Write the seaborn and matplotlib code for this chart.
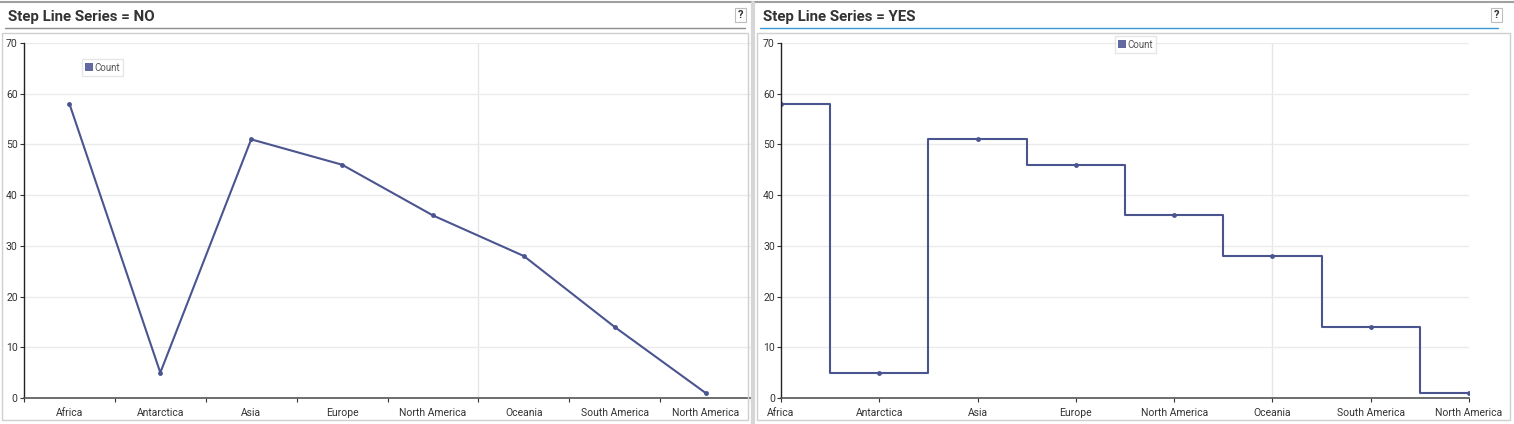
import numpy as np
import matplotlib
matplotlib.use("Agg")
import matplotlib.pyplot as plt
from matplotlib.lines import Line2D
from matplotlib.patches import Rectangle
import seaborn as sns

continents = ["Africa", "Antarctica", "Asia", "Europe", "North America",
              "Oceania", "South America", "North America"]
counts = [58, 5, 51, 46, 36, 28, 14, 1]
titles = ["Step Line Series = NO", "Step Line Series = YES"]

sns.set_style("white")
plt.rcParams["font.family"] = ["Roboto", "DejaVu Sans"]

W, H = 1514, 424
line_col = "#4a5590"
fig = plt.figure(figsize=(W / 100, H / 100), dpi=100)


def px_axes(x0, y0, x1, y1):
    return fig.add_axes([x0 / W, (H - y1) / H, (x1 - x0) / W, (y1 - y0) / H])


def px_rect(x0, y0, x1, y1, **kw):
    fig.patches.append(Rectangle((x0 / W, (H - y1) / H), (x1 - x0) / W, (y1 - y0) / H,
                                 transform=fig.transFigure, fill=False, **kw))


def px_line(x0, x1, y, **kw):
    fig.add_artist(Line2D([x0 / W, x1 / W], [(H - y) / H] * 2, transform=fig.transFigure, **kw))


# top border of page
px_line(0, W, 1.5, color="#a0a0a0", lw=1.5)

# panel decorations
panels = [(2, 748, 745, "#8c8c8c", 740), (757, 1510, 1498, "#3a97d4", 1496)]
for (x0, x1, ux1, ucol, qx), title in zip(panels, titles):
    fig.text((x0 + 6) / W, (H - 17) / H, title, fontsize=10.8, fontweight="bold",
             color="#333333", va="center", ha="left")
    px_line(x0 + 3, ux1, 28, color=ucol, lw=1)
    px_rect(x0, 33, x1, 420, edgecolor="#cfcfcf", lw=1)
    px_rect(qx - 5, 8, qx + 6, 22, edgecolor="#bdbdbd", lw=0.8)
    fig.text(qx / W, (H - 15) / H, "?", fontsize=8, fontweight="bold", color="#333333",
             ha="center", va="center")
fig.add_artist(Line2D([752.5 / W] * 2, [0, 1 - 3 / H], transform=fig.transFigure,
                      color="#d6d6d6", lw=3))

idx = np.arange(len(counts))

ax1 = px_axes(24, 43, 751, 398)
ax2 = px_axes(781, 43, 1469, 398)

sns.lineplot(x=idx, y=counts, ax=ax1, color=line_col, lw=1.5, marker="o",
             markersize=3.5, markeredgewidth=0, label="Count")
sns.lineplot(x=idx, y=counts, ax=ax2, color=line_col, lw=1.5, marker="o",
             markersize=3.5, markeredgewidth=0, label="Count", drawstyle="steps-mid")

ax1.set_xlim(-0.5, len(counts) - 0.5)
ax2.set_xlim(0, len(counts) - 1)
ax1.axvline(4.5, color="#e6e6e6", lw=1, zorder=0)
ax2.axvline(5, color="#e6e6e6", lw=1, zorder=0)

for ax in (ax1, ax2):
    ax.set_ylim(0, 70)
    ax.set_yticks(range(0, 71, 10))
    ax.yaxis.grid(True, color="#ebebeb", lw=1)
    ax.set_axisbelow(True)
    ax.set_xticks(idx)
    ax.set_xticklabels(continents)
    for s in ("top", "right"):
        ax.spines[s].set_visible(False)
    ax.spines["left"].set_color("#222222")
    ax.spines["bottom"].set_color("#555555")
    ax.spines["left"].set_linewidth(1)
    ax.spines["bottom"].set_linewidth(1.2)
    ax.tick_params(axis="y", left=True, length=3, width=0.8, color="#333333",
                   labelsize=7.5, labelcolor="#333333", pad=1.5)
    ax.tick_params(axis="x", bottom=True, labelsize=7.5, labelcolor="#333333")
    ax.set_xlabel("")
    ax.set_ylabel("")

# band scale: ticks at band edges on the left chart
ax1.tick_params(axis="x", which="major", length=0, pad=7)
ax1.set_xticks(np.arange(-0.5, len(counts)), minor=True)
ax1.tick_params(axis="x", which="minor", bottom=True, length=3, width=0.8, color="#333333")
ax2.tick_params(axis="x", length=3, width=0.8, color="#333333", pad=4)

handle = [Line2D([], [], marker="s", color="none", markerfacecolor="#636aa0",
                 markeredgewidth=0, markersize=6)]
for ax, loc in ((ax1, (0.073, 0.968)), (ax2, (0.478, 1.033))):
    ax.legend(handle, ["Count"], loc="upper left", bbox_to_anchor=loc, fontsize=7,
              frameon=True, fancybox=False, edgecolor="#e0e0e0", handlelength=0.7,
              handletextpad=0.2, borderpad=0.35, labelcolor="#555555")

fig.savefig("out.png", dpi=100)
